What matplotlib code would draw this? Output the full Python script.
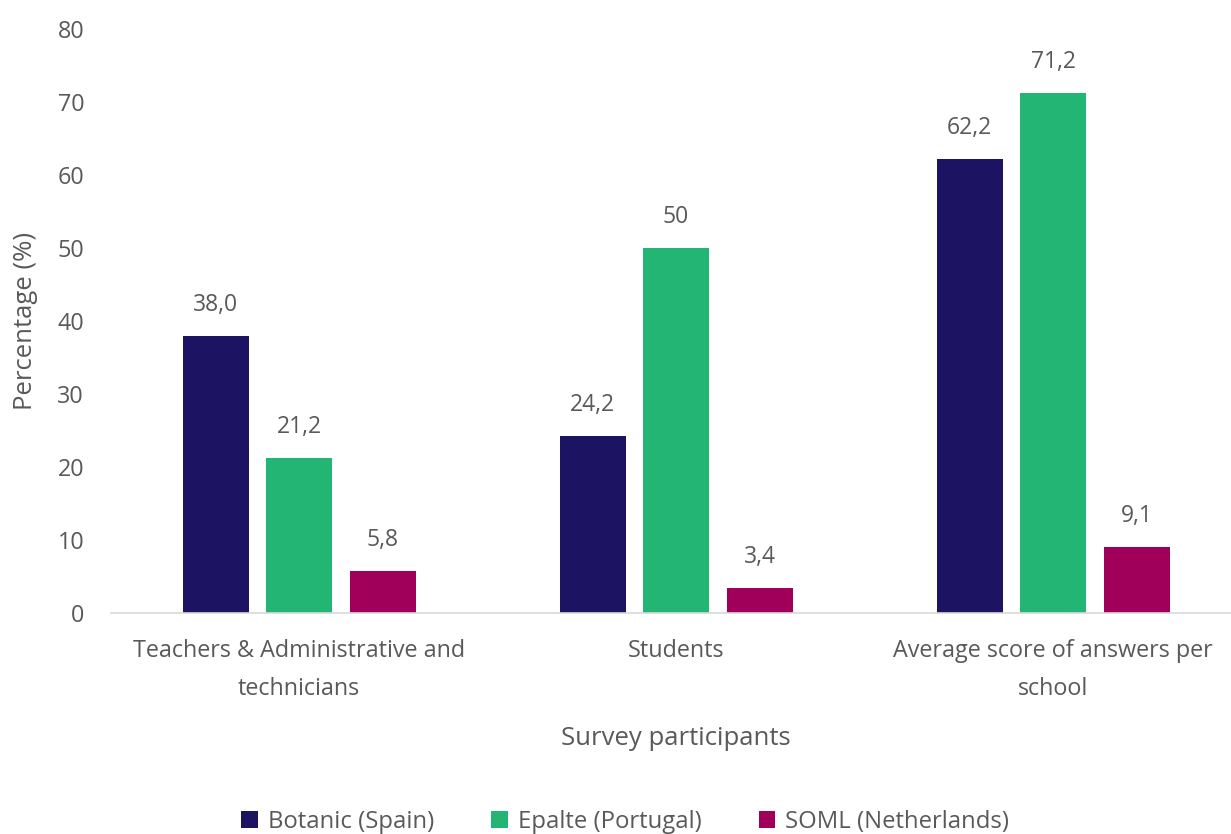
import matplotlib.pyplot as plt
import numpy as np

plt.rcParams['font.family'] = ['Open Sans', 'DejaVu Sans']

groups = ['Teachers & Administrative and\ntechnicians', 'Students',
          'Average score of answers per\nschool']
series = ['Botanic (Spain)', 'Epalte (Portugal)', 'SOML (Netherlands)']
values = [
    [38.0, 24.2, 62.2],
    [21.2, 50.0, 71.2],
    [5.8, 3.4, 9.1],
]
labels = [
    ['38,0', '24,2', '62,2'],
    ['21,2', '50', '71,2'],
    ['5,8', '3,4', '9,1'],
]
colors = ['#1C1462', '#22B573', '#A0005A']
text_c = '#595959'

fig = plt.figure(figsize=(12.31, 8.34), dpi=100)
ax = fig.add_axes([0.0898, 0.265, 0.9188, 0.700])

x = np.arange(len(groups))
width = 0.175
step = 0.2215
for i, (vals, labs) in enumerate(zip(values, labels)):
    pos = x + (i - 1) * step
    bars = ax.bar(pos, vals, width, color=colors[i], label=series[i], zorder=2)
    for b, lab in zip(bars, labs):
        ax.text(b.get_x() + b.get_width() / 2, b.get_height() + 2.6, lab,
                ha='center', va='bottom', fontsize=16.5, color=text_c)

ax.set_xlim(-0.5, 2.5)
ax.set_ylim(0, 80)
ax.set_yticks(range(0, 81, 10))
ax.set_xticks(x)
ax.set_xticklabels(groups, linespacing=1.75)
ax.tick_params(axis='both', length=0, labelsize=16.8, colors=text_c)
ax.tick_params(axis='y', pad=19)
ax.tick_params(axis='x', pad=19)
for s in ['top', 'right', 'left']:
    ax.spines[s].set_visible(False)
ax.spines['bottom'].set_color('#D9D9D9')
ax.spines['bottom'].set_linewidth(1.2)

ax.set_ylabel('Percentage (%)', fontsize=18.5, color=text_c, labelpad=14)
ax.set_xlabel('Survey participants', fontsize=18.5, color=text_c, labelpad=18)

ax.legend(loc='lower center', bbox_to_anchor=(0.455, -0.415), ncol=3,
          frameon=False, fontsize=17.2, labelcolor=text_c, handlelength=0.7,
          handleheight=0.7, handletextpad=0.4, columnspacing=2.4)

fig.savefig('out.png', dpi=100)
